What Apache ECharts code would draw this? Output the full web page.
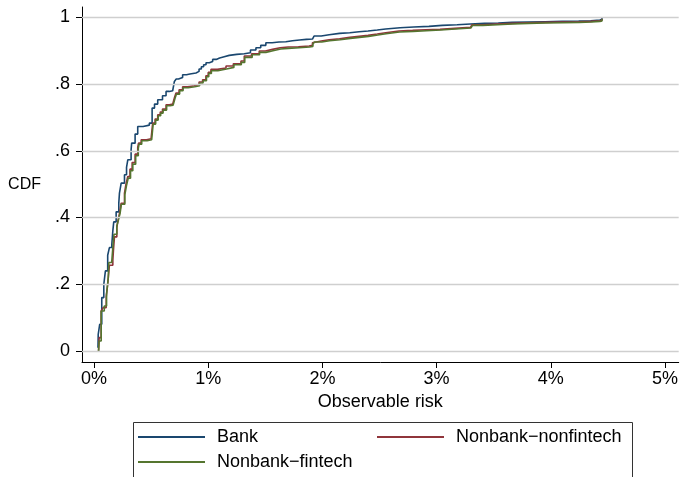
<!DOCTYPE html>
<html>
<head>
<meta charset="utf-8">
<script src="https://cdn.jsdelivr.net/npm/echarts@6/dist/echarts.min.js"></script>
<style>html,body{margin:0;padding:0;background:#fff;}#c{width:681px;height:477px;}</style>
</head>
<body>
<div id="c"></div>
<script>
const xTicks = [0, 1, 2, 3, 4, 5];
const yTicks = [0, 0.2, 0.4, 0.6, 0.8, 1];
const seriesNames = ['Bank', 'Nonbank\u2212nonfintech', 'Nonbank\u2212fintech'];

const bank = [[0.035,0.01],[0.037,0.05],[0.05,0.08],[0.068,0.16],[0.086,0.2],[0.1,0.24],[0.12,0.287],[0.135,0.31],[0.156,0.32],[0.165,0.36],[0.173,0.387],[0.194,0.417],[0.217,0.443],[0.223,0.473],[0.238,0.503],[0.267,0.528],[0.285,0.55],[0.296,0.573],[0.325,0.603],[0.33,0.623],[0.36,0.65],[0.383,0.673],[0.43,0.677],[0.485,0.683],[0.509,0.728],[0.53,0.74],[0.558,0.753],[0.6,0.765],[0.631,0.778],[0.66,0.78],[0.689,0.783],[0.704,0.808],[0.72,0.815],[0.74,0.82],[0.776,0.828],[0.81,0.83],[0.84,0.833],[0.893,0.838],[0.92,0.845],[0.94,0.852],[0.96,0.858],[0.981,0.864],[1.01,0.868],[1.039,0.874],[1.07,0.878],[1.1,0.882],[1.14,0.886],[1.184,0.889],[1.25,0.891],[1.316,0.894],[1.37,0.902],[1.418,0.909],[1.46,0.916],[1.505,0.924],[1.56,0.926],[1.62,0.927],[1.68,0.93],[1.738,0.932],[1.8,0.934],[1.86,0.935],[1.913,0.936],[1.927,0.944],[1.99,0.948],[2.059,0.952],[2.15,0.954],[2.24,0.957],[2.321,0.959],[2.4,0.962],[2.48,0.965],[2.554,0.969],[2.68,0.971],[2.8,0.973],[2.933,0.976],[3.05,0.978],[3.18,0.98],[3.297,0.982],[3.42,0.983],[3.54,0.985],[3.66,0.986],[3.8,0.987],[3.95,0.988],[4.1,0.989],[4.244,0.99],[4.35,0.992],[4.43,0.994],[4.448,0.999]];

const nonbankNonfintech = [[0.04,0],[0.045,0.04],[0.063,0.12],[0.08,0.13],[0.107,0.162],[0.12,0.2],[0.135,0.257],[0.165,0.272],[0.17,0.3],[0.179,0.342],[0.2,0.37],[0.208,0.387],[0.225,0.415],[0.238,0.443],[0.267,0.473],[0.28,0.5],[0.296,0.523],[0.315,0.545],[0.334,0.565],[0.36,0.59],[0.383,0.61],[0.39,0.623],[0.413,0.633],[0.46,0.636],[0.5,0.638],[0.514,0.683],[0.535,0.695],[0.558,0.708],[0.58,0.716],[0.6,0.725],[0.631,0.738],[0.66,0.74],[0.689,0.743],[0.705,0.76],[0.718,0.773],[0.745,0.783],[0.776,0.792],[0.82,0.795],[0.878,0.798],[0.92,0.806],[0.951,0.813],[0.98,0.825],[1.0,0.835],[1.024,0.844],[1.08,0.848],[1.156,0.854],[1.22,0.861],[1.287,0.869],[1.316,0.884],[1.38,0.891],[1.447,0.899],[1.5,0.904],[1.563,0.909],[1.63,0.911],[1.7,0.912],[1.79,0.914],[1.884,0.916],[1.913,0.924],[1.927,0.929],[1.99,0.933],[2.059,0.936],[2.15,0.94],[2.24,0.943],[2.321,0.946],[2.4,0.95],[2.48,0.954],[2.554,0.959],[2.67,0.961],[2.79,0.963],[2.904,0.964],[3.03,0.967],[3.16,0.97],[3.297,0.973],[3.31,0.978],[3.4,0.98],[3.53,0.982],[3.66,0.984],[3.8,0.985],[3.95,0.986],[4.1,0.987],[4.244,0.988],[4.35,0.99],[4.43,0.991],[4.448,0.996]];

const nonbankFintech = [[0.04,0],[0.045,0.03],[0.063,0.12],[0.09,0.135],[0.11,0.17],[0.125,0.22],[0.13,0.265],[0.155,0.27],[0.165,0.31],[0.175,0.35],[0.2,0.375],[0.212,0.39],[0.228,0.412],[0.24,0.44],[0.27,0.468],[0.284,0.495],[0.3,0.518],[0.32,0.54],[0.34,0.56],[0.365,0.585],[0.388,0.607],[0.395,0.62],[0.418,0.63],[0.465,0.633],[0.505,0.635],[0.518,0.68],[0.54,0.692],[0.562,0.705],[0.584,0.713],[0.605,0.722],[0.636,0.735],[0.665,0.737],[0.693,0.74],[0.709,0.757],[0.722,0.77],[0.75,0.78],[0.78,0.789],[0.825,0.792],[0.882,0.795],[0.925,0.803],[0.955,0.81],[0.985,0.822],[1.005,0.832],[1.028,0.84],[1.085,0.845],[1.16,0.85],[1.225,0.858],[1.29,0.865],[1.32,0.88],[1.385,0.888],[1.45,0.895],[1.505,0.9],[1.567,0.905],[1.635,0.907],[1.7,0.909],[1.795,0.911],[1.888,0.913],[1.917,0.92],[1.93,0.926],[1.995,0.93],[2.063,0.933],[2.155,0.937],[2.245,0.94],[2.325,0.943],[2.405,0.947],[2.485,0.951],[2.558,0.956],[2.675,0.958],[2.795,0.96],[2.91,0.962],[3.035,0.965],[3.165,0.968],[3.3,0.971],[3.315,0.976],[3.405,0.978],[3.535,0.98],[3.665,0.982],[3.805,0.983],[3.955,0.984],[4.105,0.985],[4.25,0.986],[4.355,0.988],[4.43,0.989],[4.448,0.995]];

const colors = ['#1a476f', '#90353b', '#55752f'];
const FONT = "'Liberation Sans', Arial, Helvetica, sans-serif";

const chart = echarts.init(document.getElementById('c'), null, {renderer: 'canvas'});

function mkLine(name, data, color, z) {
  return {
    name: name, type: 'line', data: data, step: 'end', symbol: 'none',
    lineStyle: {color: color, width: 1.6}, itemStyle: {color: color},
    z: z, animation: false, silent: true
  };
}

function legendAt(name, left, top) {
  return {
    data: [name], left: left, top: top, orient: 'horizontal',
    icon: 'rect', itemWidth: 67, itemHeight: 2, padding: 0,
    selectedMode: false,
    textStyle: {fontFamily: FONT, fontSize: 18, color: '#000', padding: [0, 0, 0, 7]}
  };
}

const option = {
  backgroundColor: '#fff',
  animation: false,
  grid: {left: 82, right: 0, top: 7, bottom: 115, containLabel: false},
  xAxis: {
    type: 'value', min: -0.105, max: 5.12,
    name: 'Observable risk', nameLocation: 'middle', nameGap: 20,
    nameTextStyle: {fontFamily: FONT, fontSize: 18, color: '#000'},
    axisLine: {show: true, onZero: false, lineStyle: {color: '#000', width: 1}},
    axisTick: {show: true, customValues: xTicks, length: 6, lineStyle: {color: '#000'}},
    axisLabel: {customValues: xTicks, margin: 8, fontFamily: FONT, fontSize: 18, color: '#000',
      formatter: v => v + '%'},
    splitLine: {show: false}
  },
  yAxis: {
    type: 'value', min: -0.033, max: 1.031,
    name: 'CDF', nameLocation: 'middle', nameRotate: 0, nameGap: 41,
    nameTextStyle: {fontFamily: FONT, fontSize: 16, color: '#000', align: 'right'},
    axisLine: {show: true, onZero: false, lineStyle: {color: '#000', width: 1}},
    axisTick: {show: true, customValues: yTicks, length: 6, lineStyle: {color: '#000'}},
    axisLabel: {customValues: yTicks, margin: 12, fontFamily: FONT, fontSize: 18, color: '#000',
      formatter: v => String(+v.toFixed(2)).replace(/^0\./, '.')},
    splitLine: {show: false}
  },
  legend: [
    legendAt(seriesNames[0], 138, 428),
    legendAt(seriesNames[1], 377, 428),
    legendAt(seriesNames[2], 138, 453)
  ],
  graphic: [{
    type: 'rect', left: 131, top: 420, silent: true,
    shape: {x: 0, y: 0, width: 499, height: 80},
    style: {fill: 'none', stroke: '#333', lineWidth: 1}
  }],
  series: [
    {
      name: 'grid', type: 'line', data: [], symbol: 'none', z: 1, silent: true,
      markLine: {
        silent: true, symbol: 'none', label: {show: false}, animation: false,
        lineStyle: {color: '#cfcfcf', width: 1.3, type: 'solid'},
        data: yTicks.map(v => ({yAxis: v}))
      }
    },
    mkLine(seriesNames[0], bank, colors[0], 2),
    mkLine(seriesNames[1], nonbankNonfintech, colors[1], 3),
    mkLine(seriesNames[2], nonbankFintech, colors[2], 4)
  ]
};
chart.setOption(option);
</script>
</body>
</html>
